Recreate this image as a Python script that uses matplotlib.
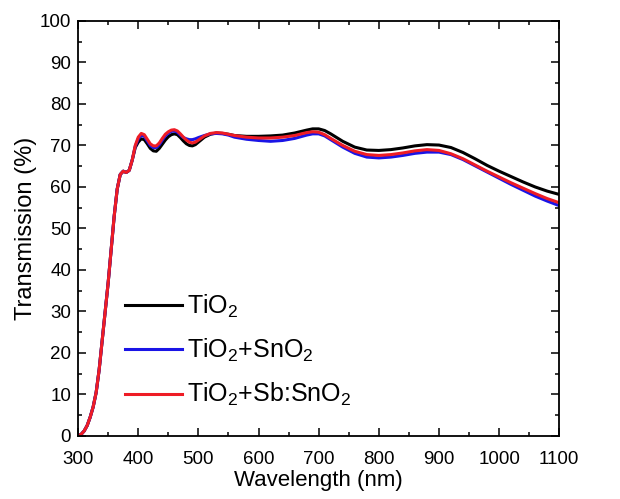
import numpy as np
import matplotlib
matplotlib.use("Agg")
import matplotlib.pyplot as plt
from matplotlib.ticker import MultipleLocator

plt.rcParams['font.family'] = ['Liberation Sans', 'DejaVu Sans']
plt.rcParams['mathtext.fontset'] = 'custom'
plt.rcParams['mathtext.rm'] = 'Liberation Sans'
plt.rcParams['mathtext.it'] = 'Liberation Sans'

# wavelength grid (nm)
wl = [300, 305, 310, 315, 320, 325, 330, 335, 340, 345, 350, 355, 360, 365, 370,
      375, 380, 385, 390, 395,
      400, 405, 410, 415, 420, 425, 430, 435, 440, 445, 450, 455, 460, 465, 470,
      475, 480, 485, 490, 495, 500, 510, 520, 530, 540, 550, 560, 580, 600, 620,
      640, 660, 680, 690, 700, 710, 720, 740, 760, 780, 800, 820, 840, 860, 880,
      900, 920, 940, 960, 980, 1000, 1020, 1040, 1060, 1080, 1100]

# common absorption edge (300-390 nm)
edge = [0, 0.4, 1.2, 2.5, 4.5, 7.0, 10.5, 16.0, 23.0, 30.0, 37.0, 45.0, 53.0, 59.5,
        63.0, 63.8, 63.5, 64.0, 66.5]

tio2 = edge + [
    69.5, 70.8, 71.6, 71.4, 70.4, 69.3, 68.7, 68.6, 69.3, 70.3, 71.3, 72.1, 72.6, 72.8,
    72.6, 71.9, 71.1, 70.4, 70.0, 69.9, 70.2, 70.8, 72.0, 72.7, 73.0, 72.9, 72.7, 72.4,
    72.2, 72.2, 72.3, 72.5, 73.0, 73.7, 74.0, 74.0, 73.6, 72.8, 71.0, 69.6, 68.9, 68.8,
    69.0, 69.4, 69.9, 70.2, 70.1, 69.5, 68.3, 66.8, 65.2, 63.8, 62.5, 61.2, 60.0, 59.0,
    58.2]

tio2_sno2 = edge + [
    69.8, 71.6, 72.5, 72.2, 71.1, 70.0, 69.5, 69.5, 70.2, 71.3, 72.3, 73.0, 73.4, 73.5,
    73.2, 72.5, 71.9, 71.6, 71.4, 71.4, 71.6, 71.9, 72.4, 72.8, 72.9, 72.8, 72.5, 72.0,
    71.5, 71.2, 71.0, 71.2, 71.7, 72.5, 72.8, 72.8, 72.3, 71.4, 69.6, 68.1, 67.2, 67.0,
    67.2, 67.6, 68.1, 68.4, 68.4, 67.8, 66.6, 65.1, 63.6, 62.1, 60.6, 59.2, 57.8, 56.6,
    55.5]

tio2_sb_sno2 = edge + [
    70.0, 72.0, 72.9, 72.6, 71.5, 70.4, 69.9, 69.9, 70.6, 71.7, 72.7, 73.3, 73.7, 73.8,
    73.5, 72.8, 72.0, 71.3, 70.8, 70.6, 70.8, 71.3, 72.3, 72.9, 73.1, 73.0, 72.7, 72.4,
    72.0, 71.8, 71.8, 72.0, 72.4, 73.1, 73.3, 73.2, 72.6, 71.7, 70.0, 68.6, 67.8, 67.6,
    67.8, 68.2, 68.7, 69.0, 68.8, 68.0, 66.8, 65.3, 63.8, 62.4, 61.0, 59.7, 58.4, 57.2,
    56.2]

labels = ['TiO$_2$', 'TiO$_2$+SnO$_2$', 'TiO$_2$+Sb:SnO$_2$']
colors = ['black', '#1a14e6', '#ee1c25']

fig = plt.figure(figsize=(6.2, 4.99), dpi=100)
ax = fig.add_axes([0.126, 0.1263, 0.776, 0.8317])

for y, lab, c in zip([tio2, tio2_sno2, tio2_sb_sno2], labels, colors):
    ax.plot(wl, y, color=c, lw=2.2, label=lab)

ax.set_xlim(300, 1100)
ax.set_ylim(0, 100)
ax.xaxis.set_major_locator(MultipleLocator(100))
ax.xaxis.set_minor_locator(MultipleLocator(50))
ax.yaxis.set_major_locator(MultipleLocator(10))
ax.yaxis.set_minor_locator(MultipleLocator(5))
ax.tick_params(which='both', direction='in', top=True, right=True, width=1.1,
               labelsize=13.5)
ax.tick_params(axis='x', pad=11)
ax.tick_params(axis='y', pad=5)
ax.tick_params(which='major', length=6)
ax.tick_params(which='minor', length=3)
for s in ax.spines.values():
    s.set_linewidth(1.3)

ax.set_xlabel('Wavelength (nm)', fontsize=16, labelpad=1)
ax.set_ylabel('Transmission (%)', fontsize=17, labelpad=2)

ax.legend(loc='lower left', bbox_to_anchor=(0.05, 0.012), frameon=False,
          fontsize=18, handlelength=2.3, handletextpad=0.2, labelspacing=0.68)

fig.savefig('out.png', dpi=100)
